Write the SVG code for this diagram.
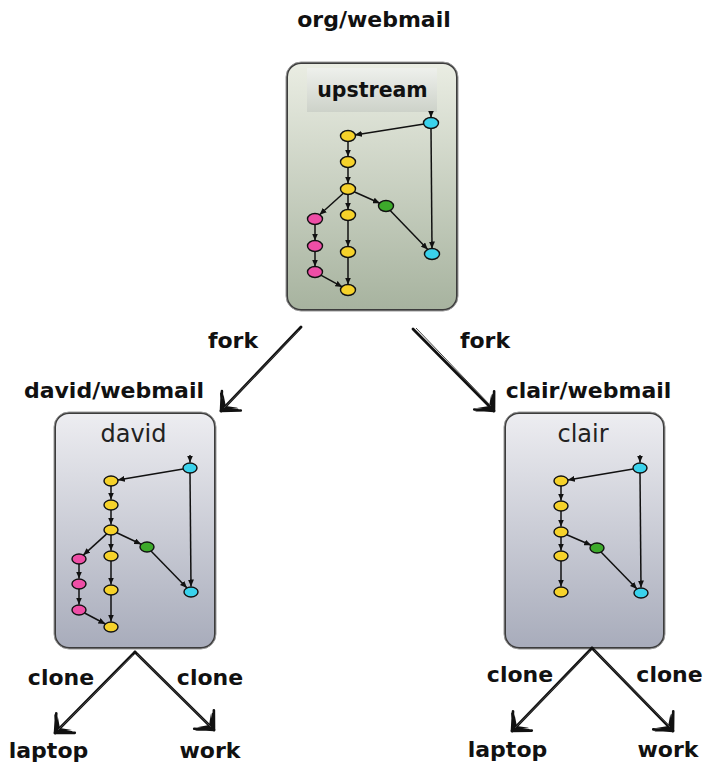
<svg xmlns="http://www.w3.org/2000/svg" width="715" height="769" viewBox="0 0 715 769">
<style>
.lbl{font-family:"DejaVu Sans","Liberation Sans",sans-serif;font-weight:bold;font-size:22px;fill:#111;text-anchor:middle}
.ttl{font-family:"DejaVu Sans","Liberation Sans",sans-serif;font-size:24px;fill:#222;text-anchor:middle}
.box{stroke:#3c3c3c;stroke-width:2}
.boxo{fill:none;stroke:#9a9a9a;stroke-width:1}
.e{stroke:#111;stroke-width:1.5;fill:none;marker-end:url(#ah)}
.sk{stroke:#111;stroke-width:2.8;fill:none;stroke-linecap:round}
.sk2{stroke:#444;stroke-width:1;fill:none}
.n{stroke:#111;stroke-width:1.4}
.y{fill:#f6d22a}.m{fill:#ee4ea6}.g{fill:#3daa2b}.c{fill:#3ad2ec}
</style>
<defs>
<linearGradient id="gUp" x1="0" y1="0" x2="0" y2="1"><stop offset="0" stop-color="#eaede3"/><stop offset="1" stop-color="#a7b39f"/></linearGradient>
<linearGradient id="gHd" x1="0" y1="0" x2="0" y2="1"><stop offset="0" stop-color="#eef0ec"/><stop offset="1" stop-color="#cdd2c9"/></linearGradient>
<linearGradient id="gBl" x1="0" y1="0" x2="0" y2="1"><stop offset="0" stop-color="#ededf1"/><stop offset="1" stop-color="#a8acbb"/></linearGradient>
<marker id="ah" viewBox="0 0 7 6" refX="7" refY="3" markerWidth="7" markerHeight="6" markerUnits="userSpaceOnUse" orient="auto"><path d="M0,0 L7,3 L0,6 Z" fill="#111"/></marker>
<marker id="sa" viewBox="-24 -16 26 32" refX="0" refY="0" markerWidth="26" markerHeight="32" markerUnits="userSpaceOnUse" orient="auto"><path d="M0,0 L-14,-10 L-7,0 L-14,10 Z" fill="#111"/><path d="M0,0 L-14,-14 M0,0 L-15,13 M-1,1 L-12,-11 M-1,-1 L-13,12" stroke="#111" stroke-width="2.6" fill="none" stroke-linecap="round"/></marker>
</defs>

<g id="upstream">
<rect x="287" y="63" width="170" height="247" rx="14" fill="url(#gUp)" class="box"/>
<rect x="286" y="62" width="172" height="249" rx="15" class="boxo"/>
<rect x="307" y="68" width="130" height="44" fill="url(#gHd)"/>
<text x="372.5" y="97" class="lbl" style="font-size:20.5px">upstream</text>
<ellipse cx="431" cy="123" rx="7.5" ry="5.5" class="n c"/>
<ellipse cx="348" cy="136" rx="7.5" ry="5.5" class="n y"/>
<ellipse cx="348" cy="162" rx="7.5" ry="5.5" class="n y"/>
<ellipse cx="348" cy="189" rx="7.5" ry="5.5" class="n y"/>
<ellipse cx="386" cy="206" rx="7.5" ry="5.5" class="n g"/>
<ellipse cx="315" cy="219" rx="7.5" ry="5.5" class="n m"/>
<ellipse cx="348" cy="215" rx="7.5" ry="5.5" class="n y"/>
<ellipse cx="315" cy="246" rx="7.5" ry="5.5" class="n m"/>
<ellipse cx="348" cy="252" rx="7.5" ry="5.5" class="n y"/>
<ellipse cx="315" cy="272" rx="7.5" ry="5.5" class="n m"/>
<ellipse cx="348" cy="290" rx="7.5" ry="5.5" class="n y"/>
<ellipse cx="432" cy="254" rx="7.5" ry="5.5" class="n c"/>
<path class="e" d="M431,112 L431,117.5"/>
<path class="e" d="M424.1,124.1 L354.9,134.9"/>
<path class="e" d="M431,128.5 L432,248.5"/>
<path class="e" d="M348,141.5 L348,156.5"/>
<path class="e" d="M348,167.5 L348,183.5"/>
<path class="e" d="M343.4,193.2 L319.6,214.8"/>
<path class="e" d="M348,194.5 L348,209.5"/>
<path class="e" d="M354.1,191.7 L379.9,203.3"/>
<path class="e" d="M315,224.5 L315,240.5"/>
<path class="e" d="M315,251.5 L315,266.5"/>
<path class="e" d="M348,220.5 L348,246.5"/>
<path class="e" d="M348,257.5 L348,284.5"/>
<path class="e" d="M320.8,275.1 L342.3,286.9"/>
<path class="e" d="M390.2,210.4 L427.8,249.6"/>
</g>

<g id="david">
<rect x="55" y="413" width="160" height="235" rx="14" fill="url(#gBl)" class="box"/>
<rect x="54" y="412" width="162" height="237" rx="15" class="boxo"/>
<text x="133.5" y="442" class="ttl">david</text>
<ellipse cx="190" cy="468" rx="7" ry="5" class="n c"/>
<ellipse cx="111" cy="481" rx="7" ry="5" class="n y"/>
<ellipse cx="111" cy="505" rx="7" ry="5" class="n y"/>
<ellipse cx="111" cy="530" rx="7" ry="5" class="n y"/>
<ellipse cx="147" cy="547" rx="7" ry="5" class="n g"/>
<ellipse cx="79" cy="559" rx="7" ry="5" class="n m"/>
<ellipse cx="111" cy="556" rx="7" ry="5" class="n y"/>
<ellipse cx="79" cy="584" rx="7" ry="5" class="n m"/>
<ellipse cx="111" cy="590" rx="7" ry="5" class="n y"/>
<ellipse cx="79" cy="610" rx="7" ry="5" class="n m"/>
<ellipse cx="111" cy="627" rx="7" ry="5" class="n y"/>
<ellipse cx="191" cy="592" rx="7" ry="5" class="n c"/>
<path class="e" d="M190,455 L190,462.5"/>
<path class="e" d="M183.2,469.1 L117.8,479.9"/>
<path class="e" d="M190,473 L191,586.5"/>
<path class="e" d="M111,486 L111,499.5"/>
<path class="e" d="M111,510 L111,524.5"/>
<path class="e" d="M106.7,533.9 L83.3,555.1"/>
<path class="e" d="M111,535 L111,550.5"/>
<path class="e" d="M116.8,532.8 L141.2,544.2"/>
<path class="e" d="M79,564 L79,578.5"/>
<path class="e" d="M79,589 L79,604.5"/>
<path class="e" d="M111,561 L111,584.5"/>
<path class="e" d="M111,595 L111,621.5"/>
<path class="e" d="M84.6,613 L105.4,624"/>
<path class="e" d="M151,551.1 L187,587.9"/>
</g>

<g id="clair">
<rect x="505" y="413" width="159" height="235" rx="14" fill="url(#gBl)" class="box"/>
<rect x="504" y="412" width="161" height="237" rx="15" class="boxo"/>
<text x="583" y="442" class="ttl">clair</text>
<ellipse cx="640" cy="468" rx="7" ry="5" class="n c"/>
<ellipse cx="561" cy="481" rx="7" ry="5" class="n y"/>
<ellipse cx="561" cy="506" rx="7" ry="5" class="n y"/>
<ellipse cx="561" cy="532" rx="7" ry="5" class="n y"/>
<ellipse cx="597" cy="548" rx="7" ry="5" class="n g"/>
<ellipse cx="561" cy="556" rx="7" ry="5" class="n y"/>
<ellipse cx="561" cy="592" rx="7" ry="5" class="n y"/>
<ellipse cx="641" cy="593" rx="7" ry="5" class="n c"/>
<path class="e" d="M640,455 L640,462.5"/>
<path class="e" d="M633.2,469.1 L567.8,479.9"/>
<path class="e" d="M640,473 L641,587.5"/>
<path class="e" d="M561,486 L561,500.5"/>
<path class="e" d="M561,511 L561,526.5"/>
<path class="e" d="M561,537 L561,550.5"/>
<path class="e" d="M566.8,534.7 L591.2,545.3"/>
<path class="e" d="M561,561 L561,586.5"/>
<path class="e" d="M601,552.1 L637,588.9"/>
</g>

<g id="labels">
<text x="374" y="27" class="lbl">org/webmail</text>
<text x="233" y="348" class="lbl">fork</text>
<text x="485" y="348" class="lbl">fork</text>
<text x="114" y="398" class="lbl">david/webmail</text>
<text x="588.5" y="398" class="lbl">clair/webmail</text>
<text x="61" y="685" class="lbl">clone</text>
<text x="210" y="685" class="lbl">clone</text>
<text x="520" y="682" class="lbl">clone</text>
<text x="669.5" y="682" class="lbl">clone</text>
<text x="48.5" y="758" class="lbl">laptop</text>
<text x="210" y="758" class="lbl">work</text>
<text x="507.5" y="757" class="lbl">laptop</text>
<text x="668" y="757" class="lbl">work</text>
</g>

<g id="connectors">
<path class="sk" d="M301,327 L221,411" marker-end="url(#sa)"/>
<path class="sk2" d="M299,330 L224,408"/>
<path class="sk" d="M413,329 L494,411" marker-end="url(#sa)"/>
<path class="sk2" d="M416,328 L491,406"/>
<path class="sk" d="M135,652 L55,733" marker-end="url(#sa)"/>
<path class="sk2" d="M133,655 L58,730"/>
<path class="sk" d="M135,652 L214,730" marker-end="url(#sa)"/>
<path class="sk2" d="M137,654 L211,727"/>
<path class="sk" d="M592,648 L512,731" marker-end="url(#sa)"/>
<path class="sk2" d="M590,651 L515,728"/>
<path class="sk" d="M592,648 L673,731" marker-end="url(#sa)"/>
<path class="sk2" d="M594,650 L670,727"/>
</g>
</svg>
